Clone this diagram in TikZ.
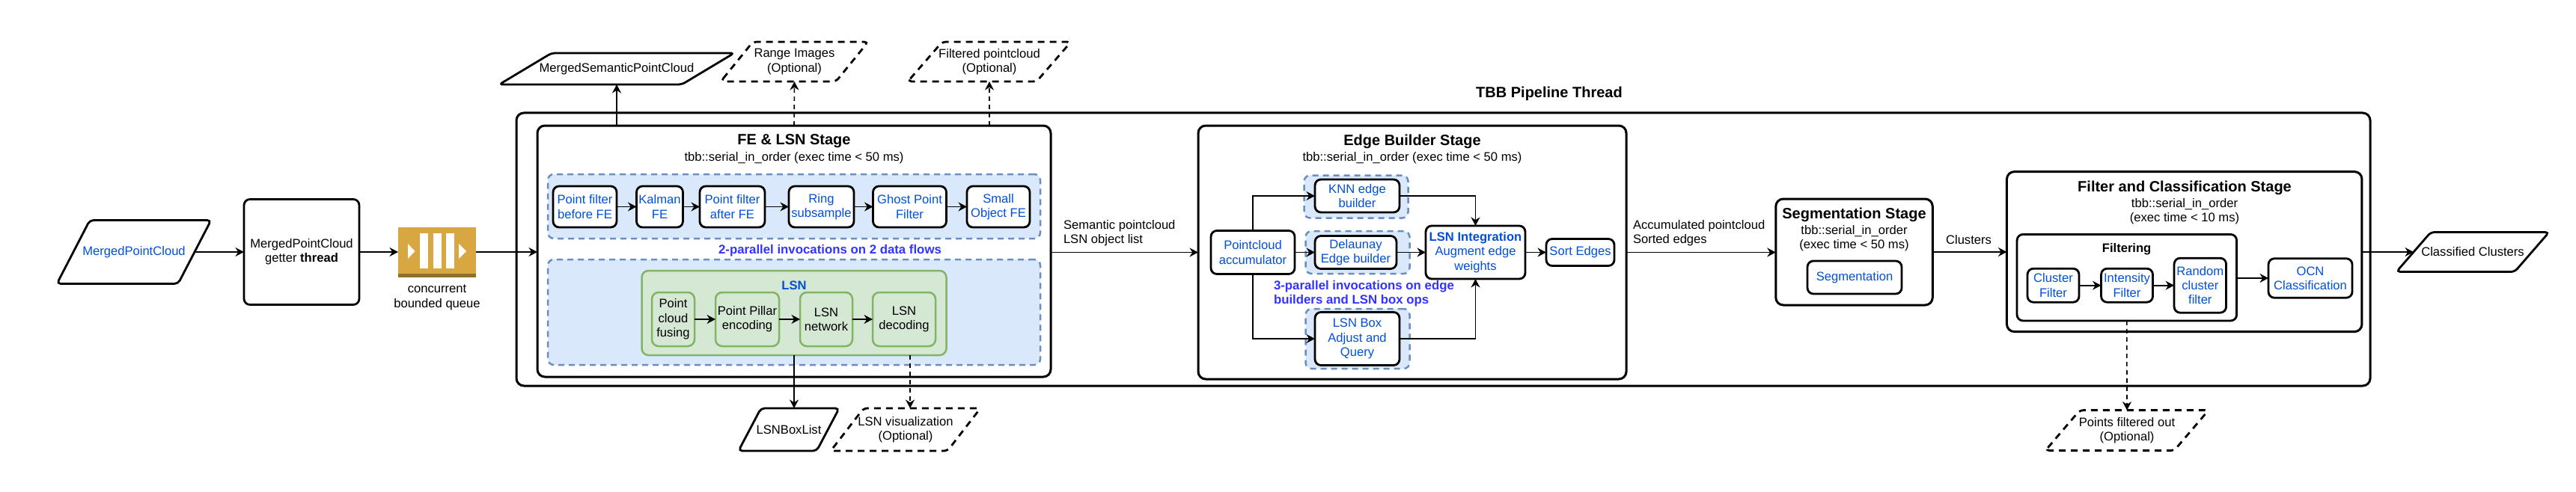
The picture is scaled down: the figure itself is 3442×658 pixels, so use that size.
\documentclass[tikz,border=0pt]{standalone}
\usepackage{fontspec}
\setmainfont{Liberation Sans}
\usetikzlibrary{arrows.meta}
\definecolor{bluetext}{HTML}{0050D8}
\definecolor{partext}{HTML}{3333FF}
\definecolor{bluefill}{HTML}{DAE8FC}
\definecolor{bluedraw}{HTML}{6C8EBF}
\definecolor{greenfill}{HTML}{D5E8D4}
\definecolor{greendraw}{HTML}{82B366}
\definecolor{queuegold}{HTML}{D9A741}
\definecolor{queuedark}{HTML}{8F6E2E}
\tikzset{
	every node/.style={font=\fontsize{16.6}{19.3}\selectfont,inner sep=0pt,outer sep=0pt,align=center},
	sz/.style 2 args={minimum width=#1,minimum height=#2},
	rbox/.style={draw,line width=2.8pt,rounded corners=8pt},
	stage/.style={rbox,line width=3pt,rounded corners=10pt},
	group/.style={draw=bluedraw,fill=bluefill,line width=2.5pt,dash pattern=on 8pt off 6pt,rounded corners=8pt},
	gbox/.style={draw=greendraw,fill=greenfill,line width=2.5pt,rounded corners=9pt},
	stepbox/.style={rbox,fill=white,text=bluetext},
	para/.style 2 args={append after command={\pgfextra{\draw[line width=2.8pt,rounded corners=5pt,#2] (\tikzlastnode.south west) -- ([xshift=#1]\tikzlastnode.north west) -- (\tikzlastnode.north east) -- ([xshift=-#1]\tikzlastnode.south east) -- cycle;}}},
	opt/.style={dash pattern=on 9pt off 7pt},
	stagetitle/.style={font=\fontsize{20}{24}\selectfont\bfseries},
	flow/.style={draw,line width=1.6pt,-{Stealth[length=11.5pt,width=12pt]}},
	optflow/.style={flow,dash pattern=on 6pt off 5pt},
	note/.style={text=partext,font=\fontsize{16.8}{19.3}\selectfont\bfseries},
}
\begin{document}
\begin{tikzpicture}[x=1pt,y=-1pt]
	\useasboundingbox (0,0) rectangle (3442,658);
	\node[para={44}{},sz={206}{85},text=bluetext] (mergedcloud) at (179,337) {MergedPointCloud};
	\node[rbox,sz={154}{141}] (getter) at (403,337) {MergedPointCloud\\getter \textbf{thread}};
	\node[fill=queuegold,sz={104}{67}] (queue) at (584,337) {};
	\fill[queuedark] (532,366) rectangle (636,370.5);
	\fill[white] (561,312) rectangle (572,359);
	\fill[white] (578.5,312) rectangle (590,359);
	\fill[white] (596,312) rectangle (607,359);
	\fill[white] (545,326) -- (554.5,336) -- (545,346) -- cycle;
	\fill[white] (613,326) -- (623,336) -- (613,346) -- cycle;
	\node (queuelabel) at (584,398) {concurrent\\bounded queue};
	\node[stage,sz={2477}{365}] (pipeline) at (1928.5,333.5) {};
	\node[stagetitle] (pipetitle) at (2070,125) {TBB Pipeline Thread};
	\node[para={70}{},sz={314}{42}] (semcloud) at (824,92) {MergedSemanticPointCloud};
	\node[para={43}{opt},sz={197}{53}] (rangeimg) at (1061.5,82.5) {Range Images\\(Optional)};
	\node[para={46}{opt},sz={218}{53}] (filtcloud) at (1322,82.5) {Filtered pointcloud\\(Optional)};
	\node[stage,sz={686}{336}] (fe) at (1061,336) {};
	\node[stagetitle] (fetitle) at (1061,189) {FE \& LSN Stage};
	\node (fesub) at (1061,211) {tbb::serial\_in\_order (exec time < 50 ms)};
	\node[group,sz={658}{86}] (fegroup) at (1061,276) {};
	\node[stepbox,sz={85}{55}] (filterbefore) at (781.5,276.5) {Point filter\\before FE};
	\node[stepbox,sz={62}{55}] (kalman) at (881.5,276.5) {Kalman\\FE};
	\node[stepbox,sz={87}{55}] (filterafter) at (978.5,276.5) {Point filter\\after FE};
	\node[stepbox,sz={87}{55}] (ring) at (1097.5,276.5) {Ring\\subsample};
	\node[stepbox,sz={98}{55}] (ghost) at (1215.5,276.5) {Ghost Point\\Filter};
	\node[stepbox,sz={84}{55}] (smallobj) at (1334,276.5) {Small\\Object FE};
	\node[note] (fenote) at (1109,335) {2-parallel invocations on 2 data flows};
	\node[group,sz={658}{141}] (lsngroup) at (1061,417.5) {};
	\node[gbox,sz={407}{113}] (lsn) at (1061,418.5) {};
	\node[text=bluetext,font=\fontsize{16.6}{19.3}\selectfont\bfseries] (lsntitle) at (1061,382) {LSN};
	\node[gbox,sz={57}{72}] (fusing) at (899.5,427) {Point\\cloud\\fusing};
	\node[gbox,sz={85}{72}] (pillar) at (998.5,427) {Point Pillar\\encoding};
	\node[gbox,sz={70}{72}] (lsnnet) at (1104,427) {LSN\\network};
	\node[gbox,sz={84}{72}] (lsndec) at (1208,427) {LSN\\decoding};
	\node[para={30}{},sz={134.5}{57}] (boxlist) at (1054,574.5) {LSNBoxList};
	\node[para={44}{opt},sz={200}{57}] (lsnviz) at (1210,574.5) {LSN visualization\\(Optional)};
	\coordinate (vizend) at (1216,546);
	\node[stage,sz={572}{339}] (edge) at (1887,337.5) {};
	\node[stagetitle] (edgetitle) at (1887,189.5) {Edge Builder Stage};
	\node (edgesub) at (1887,211) {tbb::serial\_in\_order (exec time < 50 ms)};
	\node[group,sz={139}{57}] (knngroup) at (1812,263) {};
	\node[group,sz={139}{57}] (delgroup) at (1814,337.5) {};
	\node[group,sz={139}{80}] (boxgroup) at (1814,453) {};
	\node[stepbox,sz={112}{58}] (pcacc) at (1674,337.5) {Pointcloud\\accumulator};
	\node[stepbox,sz={113}{44}] (knn) at (1813.5,262) {KNN edge\\builder};
	\node[stepbox,sz={109}{44}] (delaunay) at (1811.5,337.5) {Delaunay\\Edge builder};
	\node[stepbox,sz={113}{71}] (lsnadj) at (1813.5,453) {LSN Box\\Adjust and\\Query};
	\node[stepbox,sz={133}{71}] (integ) at (1971.5,337.5) {\textbf{LSN Integration}\\Augment edge\\weights};
	\node[stepbox,sz={91}{36}] (sortedges) at (2111.5,337.5) {Sort Edges};
	\node[note,align=left,anchor=west] (edgenote) at (1702,392.5) {3-parallel invocations on edge\\builders and LSN box ops};
	\node[align=left,anchor=west] (felabel) at (1421,312) {Semantic pointcloud\\LSN object list};
	\node[align=left,anchor=west] (edgelabel) at (2182,312) {Accumulated pointcloud\\Sorted edges};
	\node[stage,sz={209.5}{142}] (seg) at (2477.5,337) {};
	\node[stagetitle] (segtitle) at (2477.5,287) {Segmentation Stage};
	\node (segsub) at (2477.5,319) {tbb::serial\_in\_order\\(exec time < 50 ms)};
	\node[stepbox,sz={126}{44}] (segbox) at (2478,371) {Segmentation};
	\node (clusterlabel) at (2630.5,321) {Clusters};
	\node[stage,sz={474.5}{214}] (fc) at (2918.7,336.6) {};
	\node[stagetitle] (fctitle) at (2919,251) {Filter and Classification Stage};
	\node (fcsub) at (2919,282.5) {tbb::serial\_in\_order\\(exec time < 10 ms)};
	\node[rbox,sz={293.5}{115.5}] (filtering) at (2841.8,371.2) {};
	\node[font=\fontsize{16.6}{19.3}\selectfont\bfseries] (filttitle) at (2841.6,333.7) {Filtering};
	\node[stepbox,sz={69}{45}] (clusterf) at (2743.5,381.7) {Cluster\\Filter};
	\node[stepbox,sz={69}{45}] (intensity) at (2842,381.7) {Intensity\\Filter};
	\node[stepbox,sz={69.5}{73}] (randomf) at (2939.8,381.7) {Random\\cluster\\filter};
	\node[stepbox,sz={112}{52.5}] (ocn) at (3087,372) {OCN\\Classification};
	\node[para={46}{},sz={204}{53}] (classified) at (3304,337) {Classified Clusters};
	\node[para={46}{opt},sz={218}{54}] (filteredout) at (2842,575.6) {Points filtered out\\(Optional)};
	\draw[flow] ([xshift=-22pt]mergedcloud.east) -- (getter.west);
	\draw[flow] (getter.east) -- (queue.west);
	\draw[flow] (queue.east) -- (queue.east -| fe.west);
	\draw[flow] (semcloud.south |- fe.north) -- (semcloud.south);
	\draw[optflow] (fe.north) -- (rangeimg.south);
	\draw[optflow] (filtcloud.south |- fe.north) -- (filtcloud.south);
	\draw[flow] (filterbefore) -- (kalman);
	\draw[flow] (kalman) -- (filterafter);
	\draw[flow] (filterafter) -- (ring);
	\draw[flow] (ring) -- (ghost);
	\draw[flow] (ghost) -- (smallobj);
	\draw[flow] (fusing) -- (pillar);
	\draw[flow] (pillar) -- (lsnnet);
	\draw[flow] (lsnnet) -- (lsndec);
	\draw[flow] (lsn.south) -- (lsn.south |- boxlist.north);
	\draw[optflow] (vizend |- lsn.south) -- (vizend);
	\draw[flow] (fe.east |- edge.west) -- (edge.west);
	\draw[flow] (pcacc.north) |- (knn.west);
	\draw[flow] (pcacc.east) -- (delaunay.west);
	\draw[flow] (pcacc.south) |- (lsnadj.west);
	\draw[flow] (knn.east) -| (integ.north);
	\draw[flow] (delaunay.east) -- (integ.west);
	\draw[flow] (lsnadj.east) -| (integ.south);
	\draw[flow] (integ.east) -- (sortedges.west);
	\draw[flow] (edge.east) -- (edge.east -| seg.west);
	\draw[flow] (seg.east) -- (seg.east -| fc.west);
	\draw[flow] (clusterf) -- (intensity);
	\draw[flow] (intensity) -- (randomf);
	\draw[flow] (ocn.west -| filtering.east) -- (ocn.west);
	\draw[flow] (classified.west -| fc.east) -- ([xshift=23pt]classified.west);
	\draw[optflow] (filtering.south) -- (filteredout.north);
\end{tikzpicture}
\end{document}
